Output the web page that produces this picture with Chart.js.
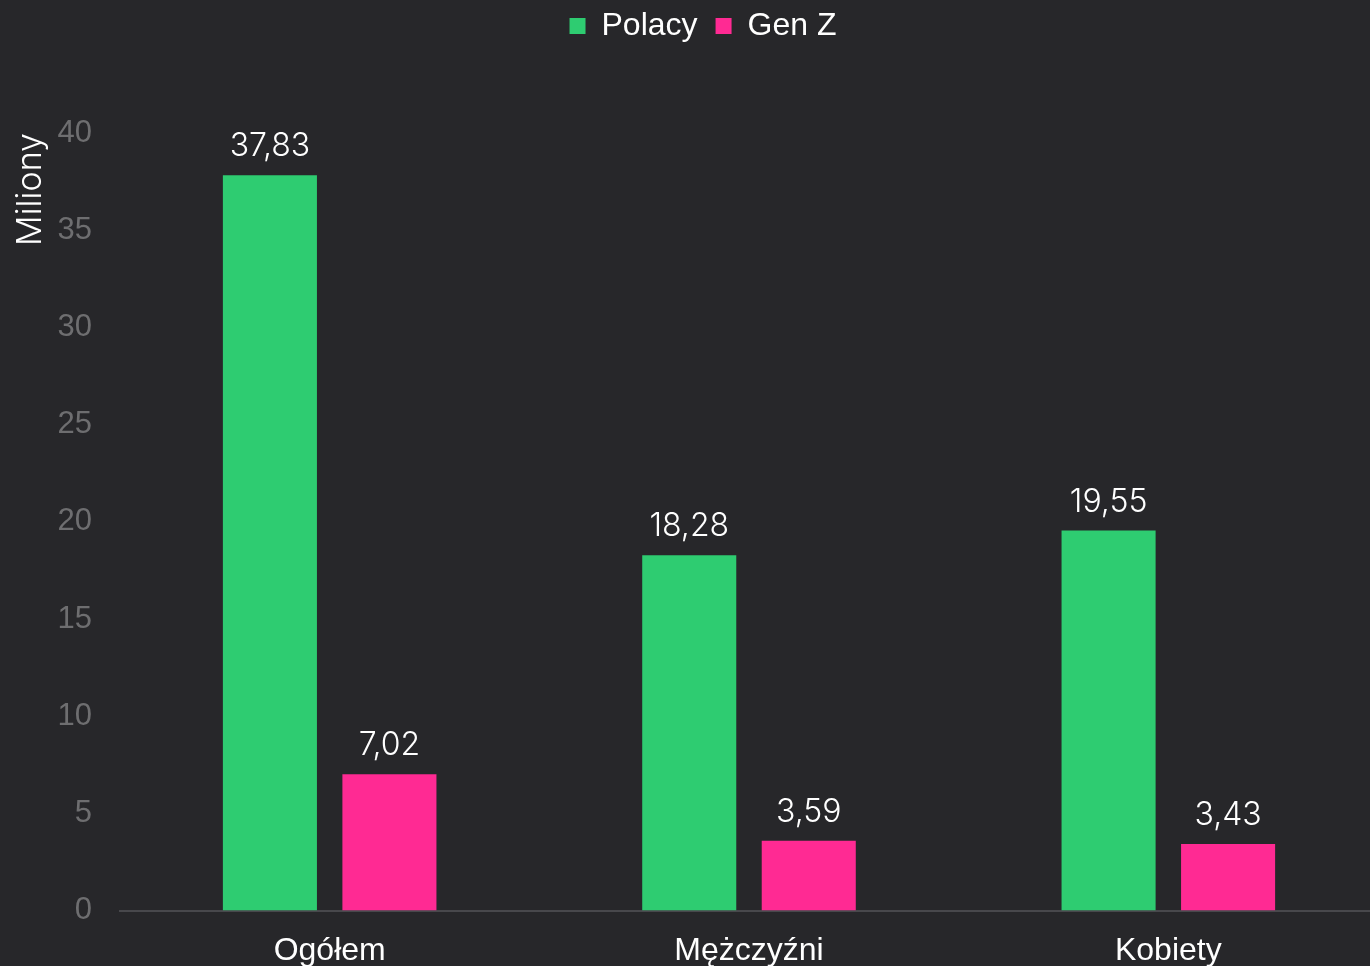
<!DOCTYPE html>
<html>
<head>
<meta charset="utf-8">
<script src="https://cdn.jsdelivr.net/npm/chart.js@4"></script>
<style>
  html, body { margin: 0; padding: 0; background: #27272a; overflow: hidden; }
  #wrap { position: relative; width: 1378px; height: 991px; }
</style>
</head>
<body>
<div id="wrap"><canvas id="wykres"></canvas></div>
<script>
const kategorie = ['Ogółem', 'Mężczyźni', 'Kobiety'];
const polacy = [37.83, 18.28, 19.55];
const genZ = [7.02, 3.59, 3.43];
const osY = { min: 0, max: 40, step: 5 };

const fontTekst = '"Liberation Sans", Arial, sans-serif';
const fontLiczby = 'Inter, "Liberation Sans", sans-serif';

// podpisy wartosci nad slupkami
const etykiety = {
    id: 'etykiety',
    afterDatasetsDraw(chart) {
        const ctx = chart.ctx;
        ctx.save();
        ctx.font = '300 32px ' + fontLiczby;
        ctx.fillStyle = '#ffffff';
        ctx.textAlign = 'center';
        ctx.textBaseline = 'alphabetic';
        chart.data.datasets.forEach((ds, i) => {
            chart.getDatasetMeta(i).data.forEach((bar, j) => {
                let txt = ds.data[j].toFixed(2).replace('.', ',');
                ctx.fillText(txt, bar.x, bar.y - 19);
            });
        });
        ctx.restore();
    }
};

// wiecej miejsca pod legenda + lekkie przesuniecie
const odstepLegendy = {
    id: 'odstepLegendy',
    beforeInit(chart) {
        const fit = chart.legend.fit;
        chart.legend.fit = function() {
            fit.bind(chart.legend)();
            this.height += 73;
        };
    },
    afterLayout(chart) {
        chart.legend.left += 11;
        chart.legend.right += 11;
        chart.legend.top -= 8;
    }
};

new Chart(document.getElementById('wykres'), {
    type: 'bar',
    data: {
        labels: kategorie,
        datasets: [
            { label: 'Polacy', data: polacy, backgroundColor: '#2ecc71' },
            { label: 'Gen Z', data: genZ, backgroundColor: '#ff2a93' }
        ]
    },
    options: {
        responsive: true,
        maintainAspectRatio: false,
        animation: false,
        devicePixelRatio: 1,
        categoryPercentage: 0.57,
        barPercentage: 0.787,
        layout: { padding: { left: 6, top: 0, right: 0, bottom: 0 } },
        plugins: {
            tooltip: { enabled: false },
            legend: {
                position: 'top',
                labels: {
                    color: '#ffffff',
                    font: { family: fontTekst, size: 32 },
                    boxWidth: 16,
                    boxHeight: 16,
                    padding: 18
                }
            }
        },
        scales: {
            x: {
                grid: { display: false, drawTicks: false },
                border: { display: true, color: '#48484c', width: 2 },
                ticks: {
                    color: '#ffffff',
                    padding: 21,
                    font: { family: fontTekst, size: 32 }
                }
            },
            y: {
                min: osY.min,
                max: osY.max,
                grid: { display: false, drawTicks: false },
                border: { display: false },
                afterFit(scale) { scale.width = 114; },
                ticks: {
                    stepSize: osY.step,
                    color: '#6e6e70',
                    padding: 28,
                    font: { family: fontTekst, size: 31 }
                },
                title: {
                    display: true,
                    text: 'Miliony',
                    align: 'end',
                    color: '#ffffff',
                    font: { family: fontLiczby, size: 34, weight: 300 }
                }
            }
        }
    },
    plugins: [etykiety, odstepLegendy]
});
</script>
</body>
</html>
